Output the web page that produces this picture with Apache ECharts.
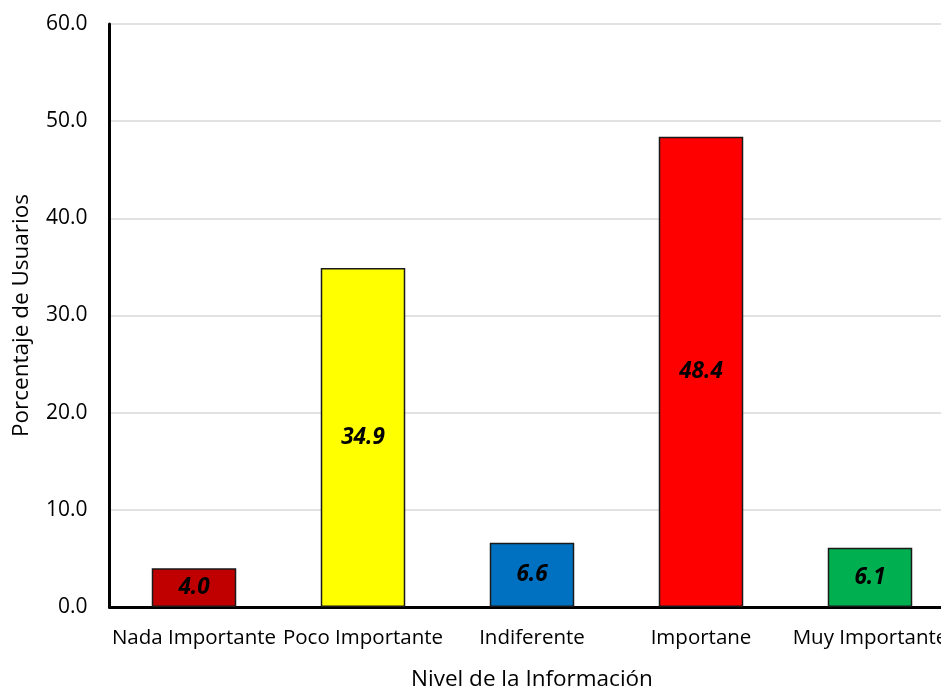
<!DOCTYPE html>
<html>
<head>
<meta charset="utf-8">
<script src="https://cdn.jsdelivr.net/npm/echarts@6/dist/echarts.min.js"></script>
<style>
  html, body { margin: 0; padding: 0; background: #fff; }
  #chart { width: 941px; height: 689px; }
</style>
</head>
<body>
<div id="chart"></div>
<script>
// Survey: how important users consider the information
const categories = ['Nada Importante', 'Poco Importante', 'Indiferente', 'Importane', 'Muy Importante'];
const percentages = [4.0, 34.9, 6.6, 48.4, 6.1];
const barColors = ['#C00000', '#FFFF00', '#0070C0', '#FF0000', '#00B050'];

const FONT = '"Open Sans", "Noto Sans", sans-serif';

const chart = echarts.init(document.getElementById('chart'), null, { renderer: 'canvas' });

chart.setOption({
  animation: false,
  backgroundColor: '#ffffff',
  // plot area runs slightly past the right edge of the canvas
  grid: {
    left: 109.5, width: 845, top: 24, bottom: 82,
    containLabel: false, outerBoundsMode: 'none'
  },
  xAxis: {
    type: 'category',
    data: categories,
    name: 'Nivel de la Información',
    nameLocation: 'middle',
    nameGap: 61,
    nameTextStyle: { fontFamily: FONT, fontSize: 22.5, color: '#000' },
    axisLine: { show: true, lineStyle: { color: '#000', width: 3 } },
    axisTick: { show: false },
    axisLabel: { fontFamily: FONT, fontSize: 20.5, color: '#000', margin: 21, interval: 0 }
  },
  yAxis: {
    type: 'value',
    min: 0,
    max: 60,
    interval: 10,
    name: 'Porcentaje de Usuarios',
    nameLocation: 'middle',
    nameGap: 76,
    nameTextStyle: { fontFamily: FONT, fontSize: 22.5, color: '#000' },
    axisLine: { show: true, lineStyle: { color: '#000', width: 3 } },
    axisTick: { show: false },
    splitLine: { show: true, lineStyle: { color: '#d9d9d9', width: 1.5 } },
    axisLabel: {
      fontFamily: FONT, fontSize: 21, color: '#000', margin: 22,
      formatter: v => v.toFixed(1)
    }
  },
  series: [{
    type: 'bar',
    barWidth: '50%',
    data: percentages.map((v, i) => ({
      value: v,
      itemStyle: { color: barColors[i], borderColor: '#1a1a1a', borderWidth: 1.5 }
    })),
    label: {
      show: true,
      position: 'inside',
      fontFamily: FONT,
      fontSize: 22.5,
      fontWeight: 'bold',
      fontStyle: 'italic',
      color: '#000',
      formatter: p => p.value.toFixed(1)
    }
  }]
});
</script>
</body>
</html>
